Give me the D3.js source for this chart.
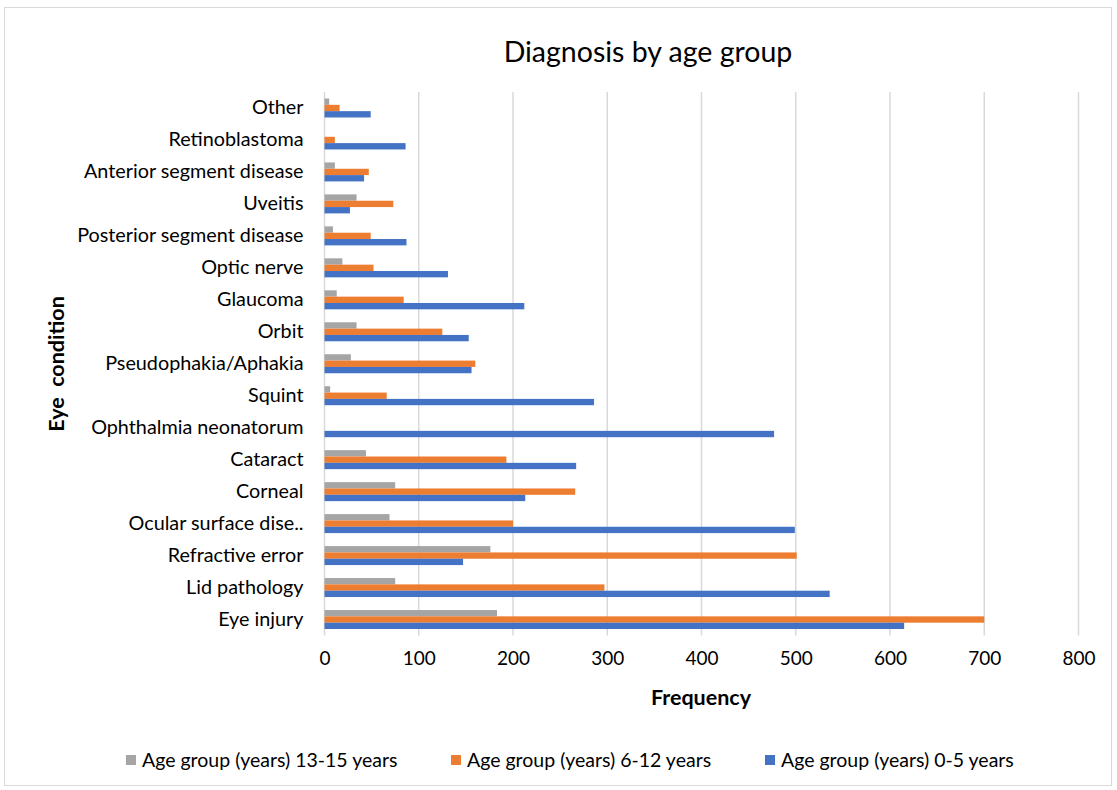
<!DOCTYPE html>
<html><head><meta charset="utf-8">
<script src="https://cdn.jsdelivr.net/npm/d3@7"></script>
<style>
html,body{margin:0;padding:0;background:#fff;}
svg text{font-family:"Lato","Open Sans",sans-serif;}
</style></head>
<body>
<svg id="chart" width="1117" height="790"></svg>
<script>
const categories = ["Other","Retinoblastoma","Anterior segment disease","Uveitis","Posterior segment disease","Optic nerve","Glaucoma","Orbit","Pseudophakia/Aphakia","Squint","Ophthalmia neonatorum","Cataract","Corneal","Ocular surface dise..","Refractive error","Lid pathology","Eye injury"];
const age0to5   = [49, 86, 42, 27, 87, 131, 212, 153, 156, 286, 477, 267, 213, 499, 147, 536, 615];
const age6to12  = [16, 11, 47, 73, 49, 52, 84, 125, 160, 66, 0, 193, 266, 200, 501, 297, 700];
const age13to15 = [5, 0, 11, 34, 9, 19, 13, 34, 28, 6, 0, 44, 75, 69, 176, 75, 183];
const seriesNames = ["Age group (years) 13-15 years","Age group (years) 6-12 years","Age group (years) 0-5 years"];
const seriesValues = [age13to15, age6to12, age0to5];
const seriesColors = ["#A5A5A5","#ED7D31","#4472C4"];
const xTicks = [0,100,200,300,400,500,600,700,800];
const chartTitle = "Diagnosis by age group";
const xTitle = "Frequency";
const yTitle = "Eye  condition";

(function(){
const svg = d3.select("#chart");
svg.append("rect").attr("x",4.5).attr("y",7.5).attr("width",1107).attr("height",778)
  .attr("fill","none").attr("stroke","#D9D9D9").attr("stroke-width",1);

const pLeft = 324.5, pRight = 1078.5, pTop = 92, pBottom = 635.5;
const x = d3.scaleLinear().domain([0,800]).range([pLeft,pRight]);
const y = d3.scaleBand().domain(categories).range([pTop,pBottom]).paddingInner(0.406).paddingOuter(0.203);
const ySub = d3.scaleBand().domain(d3.range(3)).range([0,y.bandwidth()]);

svg.append("g").selectAll("line").data(xTicks).join("line")
  .attr("x1",d=>x(d)).attr("x2",d=>x(d)).attr("y1",pTop).attr("y2",pBottom)
  .attr("stroke","#D9D9D9").attr("stroke-width",1.5);

const rows = categories.map((c,i)=>({c, vals: seriesValues.map(s=>s[i])}));
const g = svg.append("g");
rows.forEach(r=>{
  g.append("g").attr("transform",`translate(0,${y(r.c)})`)
   .selectAll("rect").data(r.vals.map((v,k)=>({v,k}))).join("rect")
   .attr("x",x(0)).attr("y",d=>ySub(d.k))
   .attr("width",d=>x(d.v)-x(0)).attr("height",ySub.bandwidth())
   .attr("fill",d=>seriesColors[d.k]);
});

const xAxis = d3.axisBottom(x).tickValues(xTicks).tickSize(0).tickPadding(0);
const xa = svg.append("g").attr("transform",`translate(0,${pBottom+16})`).call(xAxis);
xa.select(".domain").remove();
xa.selectAll("text").attr("font-size",19).attr("fill","#000").attr("dy","0.71em")
  .style("font-family","Lato, 'Open Sans', sans-serif");

const yAxis = d3.axisLeft(y).tickSize(0).tickPadding(21);
const ya = svg.append("g").attr("transform",`translate(${pLeft},0)`).call(yAxis);
ya.select(".domain").remove();
ya.selectAll("text").attr("font-size",19.8).attr("fill","#000")
  .style("font-family","Lato, 'Open Sans', sans-serif");

svg.append("text").attr("x",648).attr("y",62).attr("text-anchor","middle")
  .attr("font-size",28.5).attr("fill","#000").text(chartTitle);
svg.append("text").attr("x",701).attr("y",705).attr("text-anchor","middle")
  .attr("font-size",21.5).attr("font-weight","bold").attr("fill","#000").text(xTitle);
svg.append("text").attr("transform","translate(64,364) rotate(-90)").attr("text-anchor","middle")
  .style("white-space","pre")
  .attr("font-size",21.5).attr("font-weight","bold").attr("fill","#000").text(yTitle);

const legendSq = [126, 451, 765];
const lg = svg.append("g").selectAll("g").data(seriesNames).join("g")
  .attr("transform",(d,i)=>`translate(${legendSq[i]},760)`);
lg.append("rect").attr("x",0).attr("y",-5).attr("width",10).attr("height",10)
  .attr("fill",(d,i)=>seriesColors[i]);
lg.append("text").attr("x",16).attr("y",0).attr("dy","0.35em").attr("font-size",19.5)
  .attr("fill","#000").text(d=>d);
})();
</script>
</body></html>
